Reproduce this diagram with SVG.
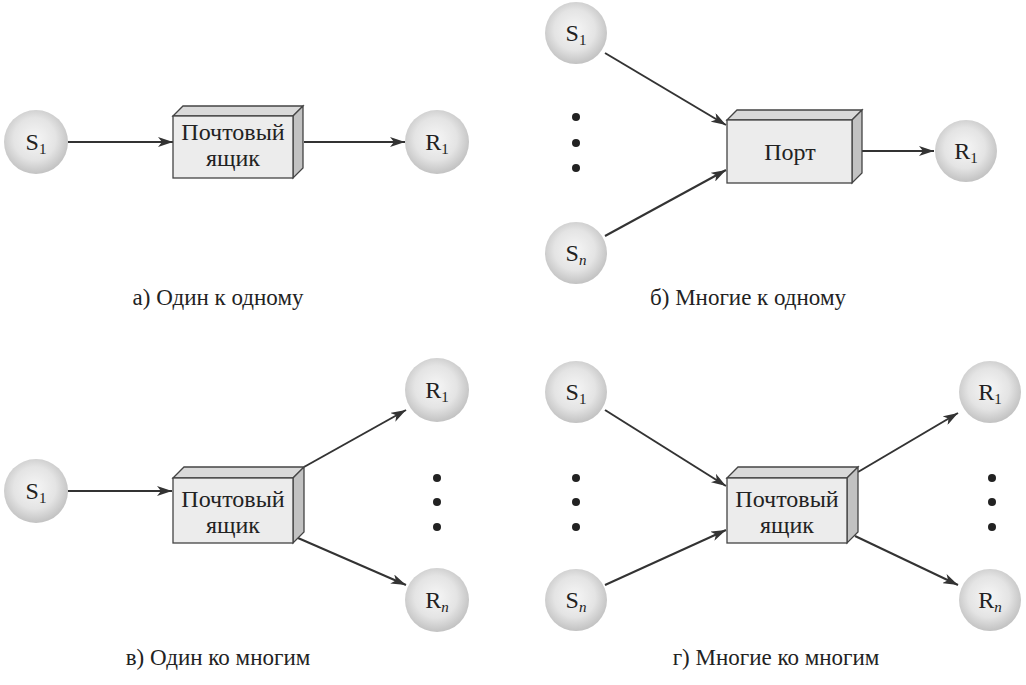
<svg xmlns="http://www.w3.org/2000/svg" width="1026" height="685" viewBox="0 0 1026 685">
<defs>
  <radialGradient id="sph" cx="48%" cy="45%" r="55%">
    <stop offset="0" stop-color="#f6f6f6"/>
    <stop offset="0.6" stop-color="#e4e4e4"/>
    <stop offset="1" stop-color="#c2c2c2"/>
  </radialGradient>
  <marker id="arr" markerUnits="userSpaceOnUse" markerWidth="16" markerHeight="10" refX="15" refY="5" orient="auto">
    <path d="M0,0 L15,5 L0,10 L4,5 Z" fill="#333"/>
  </marker>
  <style>
    text{font-family:"Liberation Serif",Tinos,"Noto Serif","DejaVu Serif",FreeSerif,"Nimbus Roman",Times,"Times New Roman",serif;}
    .node{fill:url(#sph);}
    .lbl{font-size:24px;fill:#222;text-anchor:middle;}
    .sub{font-size:15px;}
    .front{fill:#ececec;stroke:#444;stroke-width:1.3;}
    .top{fill:#d9d9d9;stroke:#444;stroke-width:1.3;}
    .side{fill:#c2c2c2;stroke:#444;stroke-width:1.3;}
    .cap{font-size:23px;fill:#222;text-anchor:middle;}
    .edge{stroke:#333;stroke-width:2;fill:none;marker-end:url(#arr);}
    .dot{fill:#222;}
  </style>
</defs>
<rect width="1026" height="685" fill="#ffffff"/>

<g id="connectors">
  <line class="edge" x1="68" y1="142" x2="173" y2="142"/>
  <line class="edge" x1="304" y1="142" x2="405" y2="142"/>
  <line class="edge" x1="605" y1="53" x2="726" y2="125"/>
  <line class="edge" x1="605" y1="236" x2="726" y2="170"/>
  <line class="edge" x1="862" y1="151" x2="934" y2="151"/>
  <line class="edge" x1="68" y1="491" x2="172" y2="491"/>
  <line class="edge" x1="304" y1="467" x2="406" y2="410"/>
  <line class="edge" x1="298" y1="538" x2="406" y2="585"/>
  <line class="edge" x1="605" y1="410" x2="726" y2="486"/>
  <line class="edge" x1="605" y1="585" x2="726" y2="530"/>
  <line class="edge" x1="858" y1="472" x2="958" y2="413"/>
  <line class="edge" x1="855" y1="536" x2="958" y2="585"/>
</g>

<!-- Panel a -->
<g id="a_S1"><circle class="node" cx="36" cy="142" r="32"/><text class="lbl" x="36" y="150">S<tspan class="sub" dy="4">1</tspan></text></g>
<g id="a_box">
  <polygon class="top" points="173,116 183,106 303,106 293,116"/>
  <polygon class="side" points="293,116 303,106 303,168 293,178"/>
  <rect class="front" x="173" y="116" width="120" height="62"/>
  <text class="lbl" x="233" y="140">Почтовый</text>
  <text class="lbl" x="233" y="166">ящик</text>
</g>
<g id="a_R1"><circle class="node" cx="437" cy="142" r="32"/><text class="lbl" x="437" y="150">R<tspan class="sub" dy="4">1</tspan></text></g>
<text class="cap" x="218" y="305">а) Один к одному</text>

<!-- Panel b -->
<g id="b_S1"><circle class="node" cx="576" cy="33" r="31"/><text class="lbl" x="576" y="41">S<tspan class="sub" dy="4">1</tspan></text></g>
<g id="b_dots"><circle class="dot" cx="576" cy="117" r="4"/><circle class="dot" cx="576" cy="143" r="4"/><circle class="dot" cx="576" cy="168" r="4"/></g>
<g id="b_Sn"><circle class="node" cx="576" cy="253" r="31"/><text class="lbl" x="576" y="261">S<tspan class="sub" dy="4" font-style="italic">n</tspan></text></g>
<g id="b_port">
  <polygon class="top" points="727,120 737,110 862,110 852,120"/>
  <polygon class="side" points="852,120 862,110 862,173 852,183"/>
  <rect class="front" x="727" y="120" width="125" height="63"/>
  <text class="lbl" x="790" y="160">Порт</text>
</g>
<g id="b_R1"><circle class="node" cx="966" cy="151" r="31"/><text class="lbl" x="966" y="159">R<tspan class="sub" dy="4">1</tspan></text></g>
<text class="cap" x="748" y="305">б) Многие к одному</text>

<!-- Panel c -->
<g id="c_S1"><circle class="node" cx="36" cy="491" r="32"/><text class="lbl" x="36" y="499">S<tspan class="sub" dy="4">1</tspan></text></g>
<g id="c_box">
  <polygon class="top" points="173,478 184,467 304,467 293,478"/>
  <polygon class="side" points="293,478 304,467 304,532 293,543"/>
  <rect class="front" x="173" y="478" width="120" height="65"/>
  <text class="lbl" x="233" y="507">Почтовый</text>
  <text class="lbl" x="233" y="533">ящик</text>
</g>
<g id="c_R1"><circle class="node" cx="437" cy="390" r="32"/><text class="lbl" x="437" y="398">R<tspan class="sub" dy="4">1</tspan></text></g>
<g id="c_dots"><circle class="dot" cx="437" cy="478" r="4"/><circle class="dot" cx="437" cy="502" r="4"/><circle class="dot" cx="437" cy="527" r="4"/></g>
<g id="c_Rn"><circle class="node" cx="437" cy="600" r="32"/><text class="lbl" x="437" y="608">R<tspan class="sub" dy="4" font-style="italic">n</tspan></text></g>
<text class="cap" x="218" y="665">в) Один ко многим</text>

<!-- Panel d -->
<g id="d_S1"><circle class="node" cx="576" cy="392" r="31"/><text class="lbl" x="576" y="400">S<tspan class="sub" dy="4">1</tspan></text></g>
<g id="d_sdots"><circle class="dot" cx="576" cy="478" r="4"/><circle class="dot" cx="576" cy="502" r="4"/><circle class="dot" cx="576" cy="527" r="4"/></g>
<g id="d_Sn"><circle class="node" cx="576" cy="600" r="31"/><text class="lbl" x="576" y="608">S<tspan class="sub" dy="4" font-style="italic">n</tspan></text></g>
<g id="d_box">
  <polygon class="top" points="727,478 738,467 858,467 847,478"/>
  <polygon class="side" points="847,478 858,467 858,532 847,543"/>
  <rect class="front" x="727" y="478" width="120" height="65"/>
  <text class="lbl" x="787" y="507">Почтовый</text>
  <text class="lbl" x="787" y="533">ящик</text>
</g>
<g id="d_R1"><circle class="node" cx="990" cy="392" r="31"/><text class="lbl" x="990" y="400">R<tspan class="sub" dy="4">1</tspan></text></g>
<g id="d_rdots"><circle class="dot" cx="992" cy="478" r="4"/><circle class="dot" cx="992" cy="502" r="4"/><circle class="dot" cx="992" cy="527" r="4"/></g>
<g id="d_Rn"><circle class="node" cx="990" cy="600" r="31"/><text class="lbl" x="990" y="608">R<tspan class="sub" dy="4" font-style="italic">n</tspan></text></g>
<text class="cap" x="776" y="665">г) Многие ко многим</text>
</svg>
